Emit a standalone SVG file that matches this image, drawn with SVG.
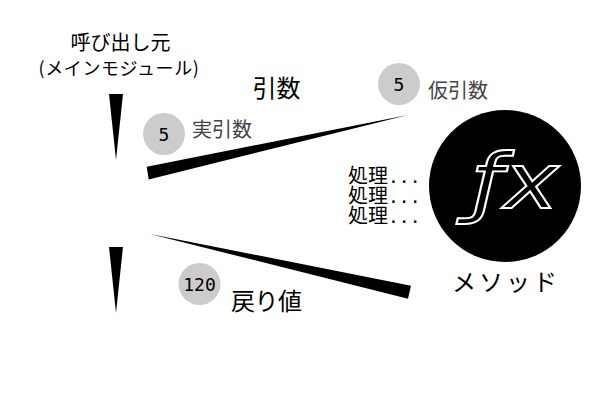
<svg xmlns="http://www.w3.org/2000/svg" width="600" height="400" viewBox="0 0 600 400">
<style>
text{font-family:"Noto Sans CJK JP","DejaVu Sans",sans-serif;fill:#000}
.num{font-family:"DejaVu Sans Mono",monospace;font-size:18px;text-anchor:middle}
.g{fill:#444;font-size:20px}
.dot{fill:#ccc}
.l{font-size:24px}
.p{font-size:20px}
.p tspan{font-family:"DejaVu Sans Mono",monospace;font-size:18px}
</style>
<rect width="600" height="400" fill="#fff"/>
<g id="caller"><text x="120.5" y="50" font-size="20" text-anchor="middle">呼び出し元</text>
<text x="119" y="75" font-size="18" letter-spacing="0.6" text-anchor="middle">(メインモジュール)</text></g>
<g id="connectors">
<polygon points="109,94 123,94 116,160"/>
<polygon points="109,247 123,247 116,313"/>
<polygon points="146.7,166.7 148.7,179.5 408,115"/>
<polygon points="150,234 411,285.7 408,298.7"/>
</g>
<g id="arg-label"><text x="276.5" y="97" class="l" text-anchor="middle">引数</text></g>
<g id="actual"><circle class="dot" cx="164" cy="134" r="21"/><text class="num" x="164" y="141">5</text><text class="g" x="192" y="137">実引数</text></g>
<g id="formal"><circle class="dot" cx="399" cy="84" r="21"/><text class="num" x="399" y="91">5</text><text class="g" x="428" y="98">仮引数</text></g>
<g id="return"><circle class="dot" cx="199.5" cy="284" r="21"/><text class="num" x="199.5" y="291">120</text><text class="l" x="231" y="310" textLength="71">戻り値</text></g>
<g id="process"><text class="p" x="348" y="183">処理<tspan>...</tspan></text>
<text class="p" x="348" y="203">処理<tspan>...</tspan></text>
<text class="p" x="348" y="223">処理<tspan>...</tspan></text></g>
<g id="method"><circle cx="505" cy="186" r="76"/>
<text transform="translate(471 208) scale(1.22 1)" font-size="76" style="font-family:'DejaVu Sans',sans-serif;font-style:italic;fill:#000;stroke:#fff;stroke-width:1.8">ƒx</text>
<text x="506" y="291" class="l" text-anchor="middle" letter-spacing="3">メソッド</text></g>
</svg>
